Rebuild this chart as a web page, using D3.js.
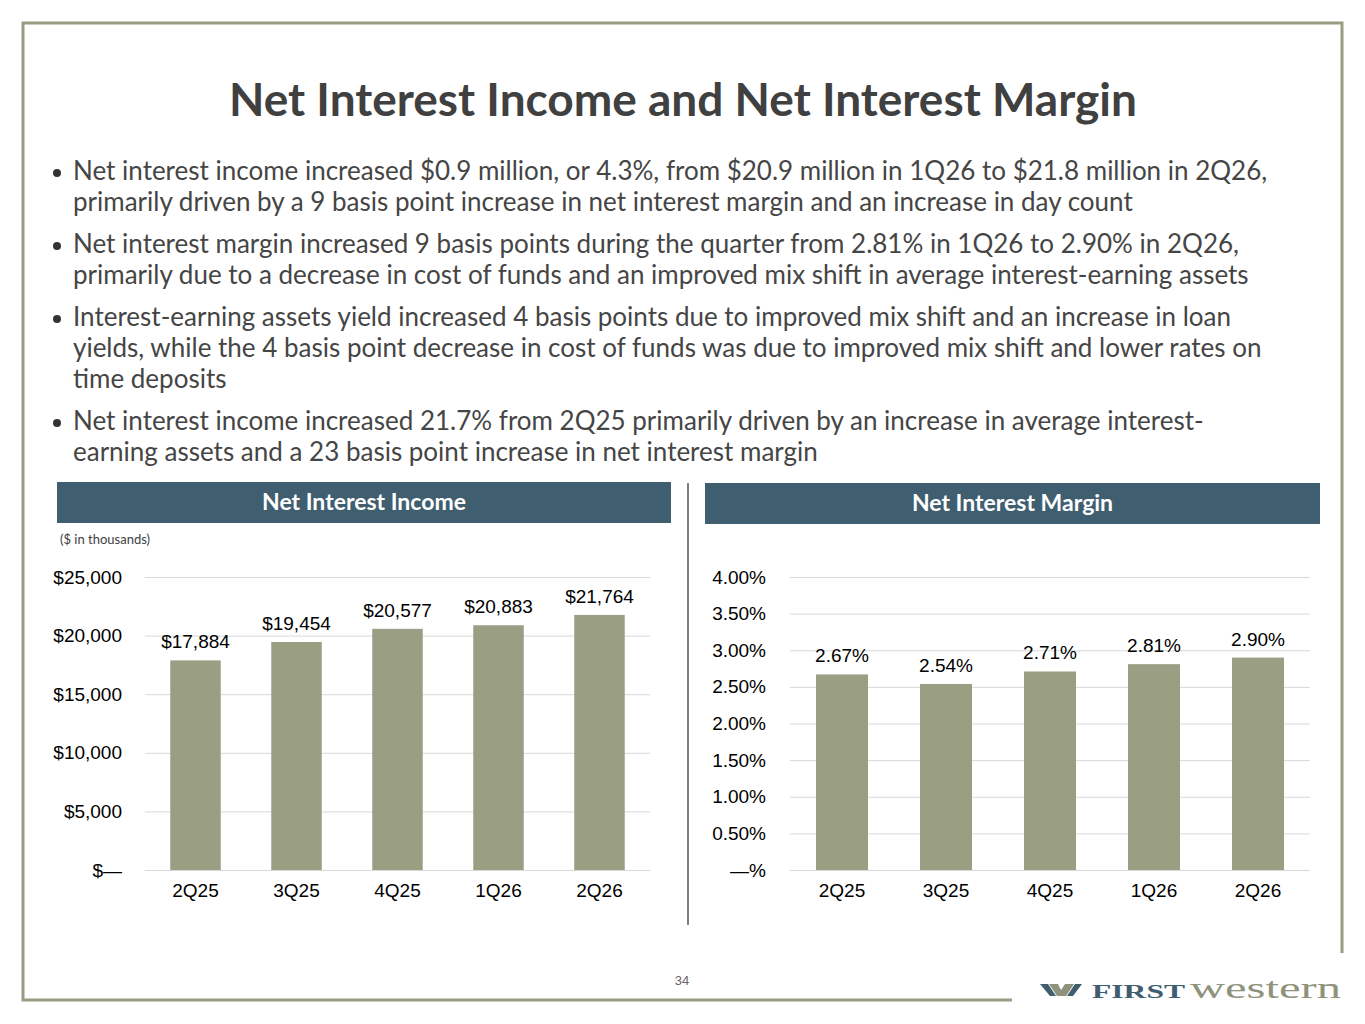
<!DOCTYPE html>
<html lang="en">
<head>
    <meta charset="utf-8">
    <title>Net Interest Income and Net Interest Margin</title>
    <script type="text/javascript" src="https://cdn.jsdelivr.net/npm/d3@7/dist/d3.min.js"></script>
    <style>
        body { margin: 0; background: #fff; }
        svg { display: block; }
    </style>
</head>
<body>
<script type="text/javascript">
    var quarters = ["2Q25", "3Q25", "4Q25", "1Q26", "2Q26"];
    var incomeValues = [17884, 19454, 20577, 20883, 21764];
    var marginValues = [2.67, 2.54, 2.71, 2.81, 2.90];
    var incomeTicks = [0, 5000, 10000, 15000, 20000, 25000];
    var marginTicks = [0, 0.5, 1, 1.5, 2, 2.5, 3, 3.5, 4];

    var bullets = [
        ["Net interest income increased $0.9 million, or 4.3%, from $20.9 million in 1Q26 to $21.8 million in 2Q26,",
         "primarily driven by a 9 basis point increase in net interest margin and an increase in day count"],
        ["Net interest margin increased 9 basis points during the quarter from 2.81% in 1Q26 to 2.90% in 2Q26,",
         "primarily due to a decrease in cost of funds and an improved mix shift in average interest-earning assets"],
        ["Interest-earning assets yield increased 4 basis points due to improved mix shift and an increase in loan",
         "yields, while the 4 basis point decrease in cost of funds was due to improved mix shift and lower rates on",
         "time deposits"],
        ["Net interest income increased 21.7% from 2Q25 primarily driven by an increase in average interest-",
         "earning assets and a 23 basis point increase in net interest margin"]
    ];

    var w = 1365;
    var h = 1024;
    var frameColor = "#9a9c84";
    var barColor = "#9a9f84";
    var headerColor = "#3f5e70";

    var svg = d3.select("body")
        .append("svg")
        .attr("width", w)
        .attr("height", h);

    // slide frame (open at bottom right for the logo)
    svg.append("path")
        .attr("d", "M1012,1000 H23 V23 H1342 V953")
        .attr("fill", "none")
        .attr("stroke", frameColor)
        .attr("stroke-width", 3);

    svg.append("text")
        .attr("x", 683)
        .attr("y", 116)
        .attr("text-anchor", "middle")
        .attr("font-family", "Lato, sans-serif")
        .attr("font-weight", "bold")
        .attr("font-size", "46px")
        .attr("fill", "#404040")
        .text("Net Interest Income and Net Interest Margin");

    // bullet text
    var lineY = 180;
    bullets.forEach(function(lines, i) {
        if (i > 0) lineY += 11;
        svg.append("circle")
            .attr("cx", 57)
            .attr("cy", lineY - 7)
            .attr("r", 4)
            .attr("fill", "#333");
        lines.forEach(function(line) {
            svg.append("text")
                .attr("x", 73)
                .attr("y", lineY)
                .attr("font-family", "Lato, sans-serif")
                .attr("font-size", "26px")
                .attr("fill", "#454545")
                .text(line);
            lineY += 31;
        });
    });

    // divider between charts
    svg.append("line")
        .attr("x1", 688).attr("x2", 688)
        .attr("y1", 483).attr("y2", 925)
        .attr("stroke", "#555")
        .attr("stroke-width", 1.5);

    function header(x, y, width, label) {
        svg.append("rect")
            .attr("x", x).attr("y", y)
            .attr("width", width).attr("height", 41)
            .attr("fill", headerColor);
        svg.append("text")
            .attr("x", x + width / 2)
            .attr("y", y + 28)
            .attr("text-anchor", "middle")
            .attr("font-family", "Lato, sans-serif")
            .attr("font-weight", "bold")
            .attr("font-size", "23px")
            .attr("fill", "#fff")
            .text(label);
    }
    header(57, 482, 614, "Net Interest Income");
    header(705, 483, 615, "Net Interest Margin");

    svg.append("text")
        .attr("x", 60)
        .attr("y", 544)
        .attr("font-family", "Lato, sans-serif")
        .attr("font-size", "13px")
        .attr("fill", "#404040")
        .text("($ in thousands)");

    function barChart(opts) {
        var x = d3.scaleBand()
            .domain(quarters)
            .range([opts.x0, opts.x1])
            .paddingInner(0.5)
            .paddingOuter(0.25);
        var y = d3.scaleLinear()
            .domain([0, opts.max])
            .range([870, 577]);

        var g = svg.append("g");

        var yAxis = d3.axisLeft(y)
            .tickValues(opts.ticks)
            .tickSize(-(opts.x1 - opts.x0))
            .tickFormat(opts.tickFormat)
            .tickPadding(opts.x0 - opts.labelRight);
        var ya = g.append("g")
            .attr("transform", "translate(" + opts.x0 + ",0)")
            .call(yAxis);
        ya.select(".domain").remove();
        ya.selectAll("line").attr("stroke", "#d9d9d9");
        ya.selectAll("text")
            .attr("font-family", "Liberation Sans, Arial, sans-serif")
            .attr("font-size", "19px")
            .attr("fill", "#000");

        var xAxis = d3.axisBottom(x).tickSize(0).tickPadding(14);
        var xa = g.append("g")
            .attr("transform", "translate(0,870)")
            .call(xAxis);
        xa.select(".domain").remove();
        xa.selectAll("text")
            .attr("font-family", "Liberation Sans, Arial, sans-serif")
            .attr("font-size", "19px")
            .attr("fill", "#000");

        g.selectAll("rect.bar")
            .data(opts.values)
            .enter()
            .append("rect")
            .attr("class", "bar")
            .attr("x", function(d, i) { return x(quarters[i]); })
            .attr("y", function(d) { return y(d); })
            .attr("width", x.bandwidth())
            .attr("height", function(d) { return 870 - y(d); })
            .attr("fill", barColor);

        g.selectAll("text.val")
            .data(opts.values)
            .enter()
            .append("text")
            .attr("class", "val")
            .attr("x", function(d, i) { return x(quarters[i]) + x.bandwidth() / 2; })
            .attr("y", function(d) { return y(d) - opts.labelGap; })
            .attr("text-anchor", "middle")
            .attr("font-family", "Liberation Sans, Arial, sans-serif")
            .attr("font-size", "19px")
            .attr("fill", "#000")
            .text(opts.labelFormat);
    }

    var dollar = d3.format(",");
    barChart({
        values: incomeValues,
        x0: 145, x1: 650, max: 25000, ticks: incomeTicks, labelRight: 122,
        tickFormat: function(d) { return d === 0 ? "$\u2014" : "$" + dollar(d); },
        labelFormat: function(d) { return "$" + dollar(d); },
        labelGap: 12
    });
    barChart({
        values: marginValues,
        x0: 790, x1: 1310, max: 4, ticks: marginTicks, labelRight: 766,
        tickFormat: function(d) { return d === 0 ? "\u2014%" : d3.format(".2f")(d) + "%"; },
        labelFormat: function(d) { return d3.format(".2f")(d) + "%"; },
        labelGap: 12
    });

    // page number
    svg.append("text")
        .attr("x", 682)
        .attr("y", 985)
        .attr("text-anchor", "middle")
        .attr("font-family", "Liberation Sans, Arial, sans-serif")
        .attr("font-size", "13px")
        .attr("fill", "#666")
        .text("34");

    // logo
    var logo = svg.append("g");
    logo.append("path")
        .attr("d", "M1040,984 H1048 L1056,996 H1050 Z")
        .attr("fill", "#3f5e70");
    logo.append("path")
        .attr("d", "M1049,984 H1058 L1061,990 L1065,984 H1074 L1066,996 H1057 Z")
        .attr("fill", "#8f937c");
    logo.append("path")
        .attr("d", "M1075,984 H1082 L1073,996 H1067 Z")
        .attr("fill", "#3f5e70");
    logo.append("text")
        .attr("x", 1092)
        .attr("y", 998)
        .attr("font-family", "Liberation Serif, serif")
        .attr("font-weight", "bold")
        .attr("font-size", "18px")
        .attr("textLength", 93)
        .attr("lengthAdjust", "spacingAndGlyphs")
        .attr("fill", "#3f5e70")
        .text("FIRST");
    logo.append("text")
        .attr("x", 1190)
        .attr("y", 998)
        .attr("font-family", "Liberation Serif, serif")
        .attr("font-size", "29px")
        .attr("textLength", 151)
        .attr("lengthAdjust", "spacingAndGlyphs")
        .attr("fill", "#8f937c")
        .text("western");
</script>
</body>
</html>
